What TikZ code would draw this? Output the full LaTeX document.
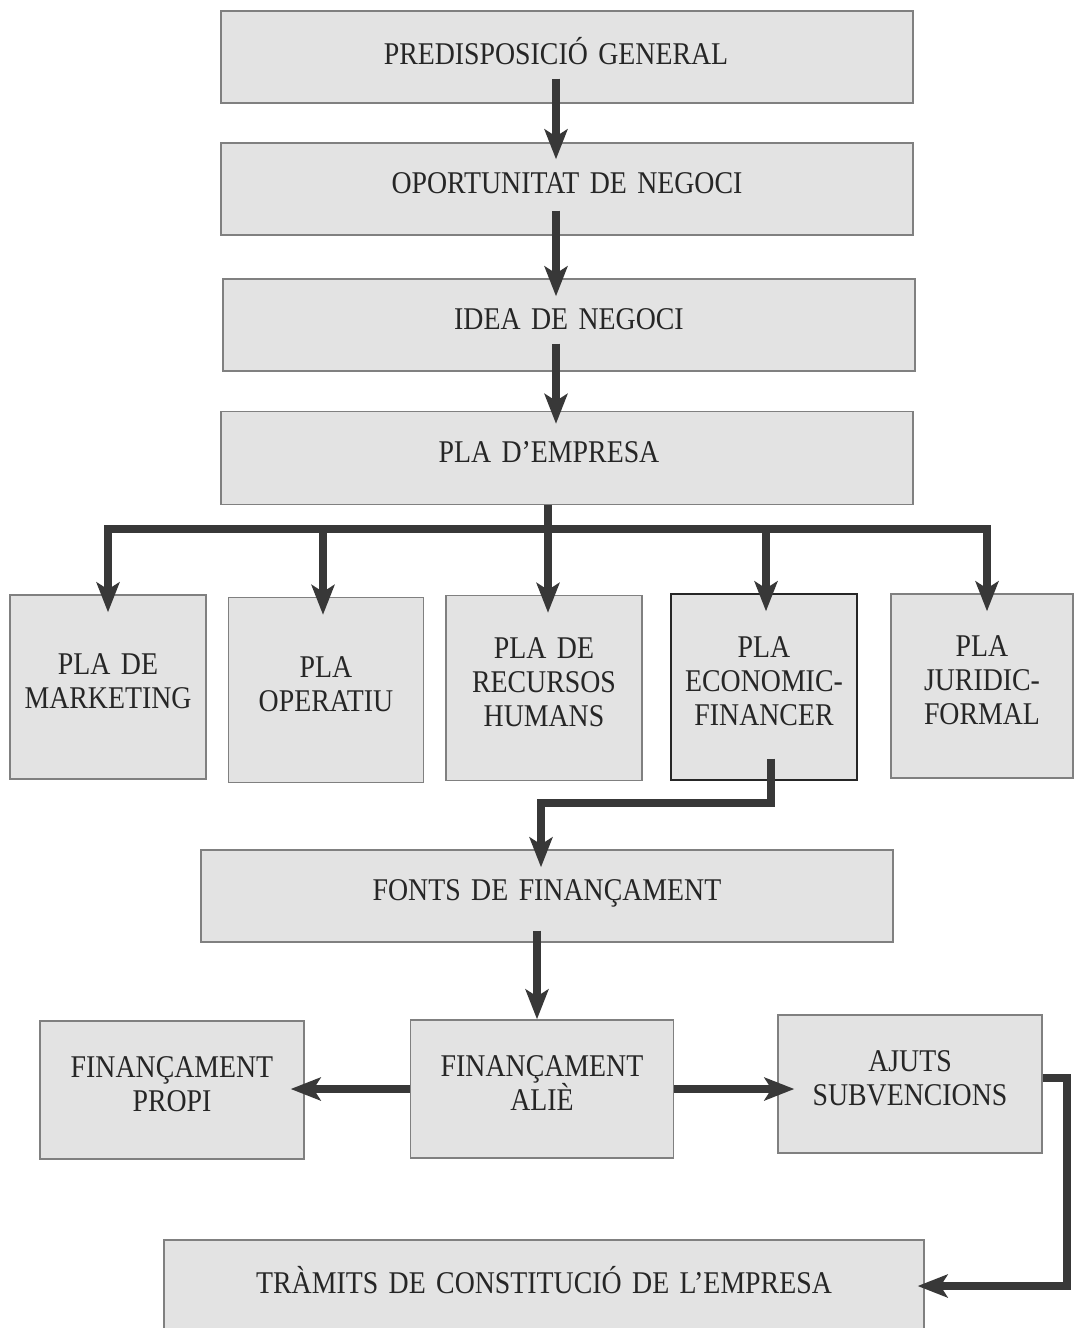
\documentclass[tikz,border=0pt]{standalone}
\usepackage{fontspec}
\setmainfont{Liberation Serif}[FakeStretch=0.88, WordSpace=1.5]
\usepackage{tikz}
\usetikzlibrary{positioning, arrows.meta, calc}

\definecolor{boxfill}{HTML}{E3E3E3}
\definecolor{boxline}{HTML}{808080}
\definecolor{flowcol}{HTML}{383838}

\begin{document}
\begin{tikzpicture}[x=0.02cm, y=-0.02cm, every node/.style={font=\fontsize{18}{19.5}\selectfont, text=black!85}, align=center,
    box/.style={draw=boxline, fill=boxfill, line width=0.8pt, inner sep=0pt, text depth=0.24cm},
    bus/.style={draw=flowcol, line width=4.5pt},
    flow/.style={bus, -{Stealth[length=17pt, width=13pt, inset=4pt]}}]
    \useasboundingbox (0,0) rectangle (1073,1328);

    \node (pred) [box, minimum width=13.84cm, minimum height=1.84cm] at (567,57) {PREDISPOSICIÓ GENERAL\hspace*{0.44cm}};
    \node (oport) [box, minimum width=13.84cm, minimum height=1.84cm] at (567,189) {OPORTUNITAT DE NEGOCI};
    \node (idea) [box, minimum width=13.84cm, minimum height=1.84cm] at (569,325) {IDEA DE NEGOCI};
    \node (plaemp) [box, minimum width=13.84cm, minimum height=1.86cm] at (567,458) {PLA D’EMPRESA\hspace*{0.72cm}};
    \node (mkt) [box, minimum width=3.92cm, minimum height=3.68cm] at (108,687) {PLA DE \\ MARKETING};
    \node (oper) [box, minimum width=3.90cm, minimum height=3.70cm] at (326,690) {PLA \\ OPERATIU};
    \node (rrhh) [box, minimum width=3.92cm, minimum height=3.70cm] at (544,688) {PLA DE \\ RECURSOS \\ HUMANS};
    \node (econ) [box, draw=black!85, minimum width=3.72cm, minimum height=3.72cm] at (764,687) {PLA \\ ECONOMIC- \\ FINANCER};
    \node (jur) [box, minimum width=3.64cm, minimum height=3.68cm] at (982,686) {PLA \\ JURIDIC- \\ FORMAL};
    \node (fonts) [box, minimum width=13.84cm, minimum height=1.84cm] at (547,896) {FONTS DE FINANÇAMENT};
    \node (propi) [box, minimum width=5.28cm, minimum height=2.76cm] at (172,1090) {FINANÇAMENT \\ PROPI};
    \node (alie) [box, minimum width=5.26cm, minimum height=2.76cm] at (542,1089) {FINANÇAMENT \\ ALIÈ};
    \node (ajuts) [box, minimum width=5.28cm, minimum height=2.76cm] at (910,1084) {AJUTS \\ SUBVENCIONS};
    \node (tramits) [box, minimum width=15.2cm, minimum height=1.84cm] at (544,1286) {TRÀMITS DE CONSTITUCIÓ DE L’EMPRESA};

    % Enllaços
    \draw[flow] ([shift={(-11,-25)}]pred.south) -- ([shift={(-11,17)}]oport.north);
    \draw[flow] ([shift={(-11,-25)}]oport.south) -- ([shift={(-13,18)}]idea.north);
    \draw[flow] ([shift={(-13,-28)}]idea.south) -- ([shift={(-11,13)}]plaemp.north);
    \coordinate (fork) at (548,529);
    \draw[bus] ([shift={(-19,0)}]plaemp.south) -- (fork);
    \draw[bus, line cap=rect] (fork -| mkt.north) -- ($(fork -| jur.north)+(5,0)$);
    \foreach \n/\dx in {mkt/0, oper/-3, rrhh/4, econ/2, jur/5}
        \draw[flow] ($(fork -| \n.north)+(\dx,0)$) -- ($(\n.north)+(\dx,18)$);
    \draw[flow] ([shift={(7,-22)}]econ.south) -- ++(0,44) -| ([shift={(-6,18)}]fonts.north);
    \draw[flow] ([shift={(-10,-12)}]fonts.south) -- ([shift={(-5,0)}]alie.north);
    \draw[flow] (alie.west) -- ($(alie.west -| propi.east)+(-14,0)$);
    \draw[flow] (alie.east) -- ($(alie.east -| ajuts.west)+(17,0)$);
    \draw[flow] ([shift={(0,-6)}]ajuts.east) -- ++(24,0) |- ([shift={(-7,0)}]tramits.east);
\end{tikzpicture}
\end{document}
